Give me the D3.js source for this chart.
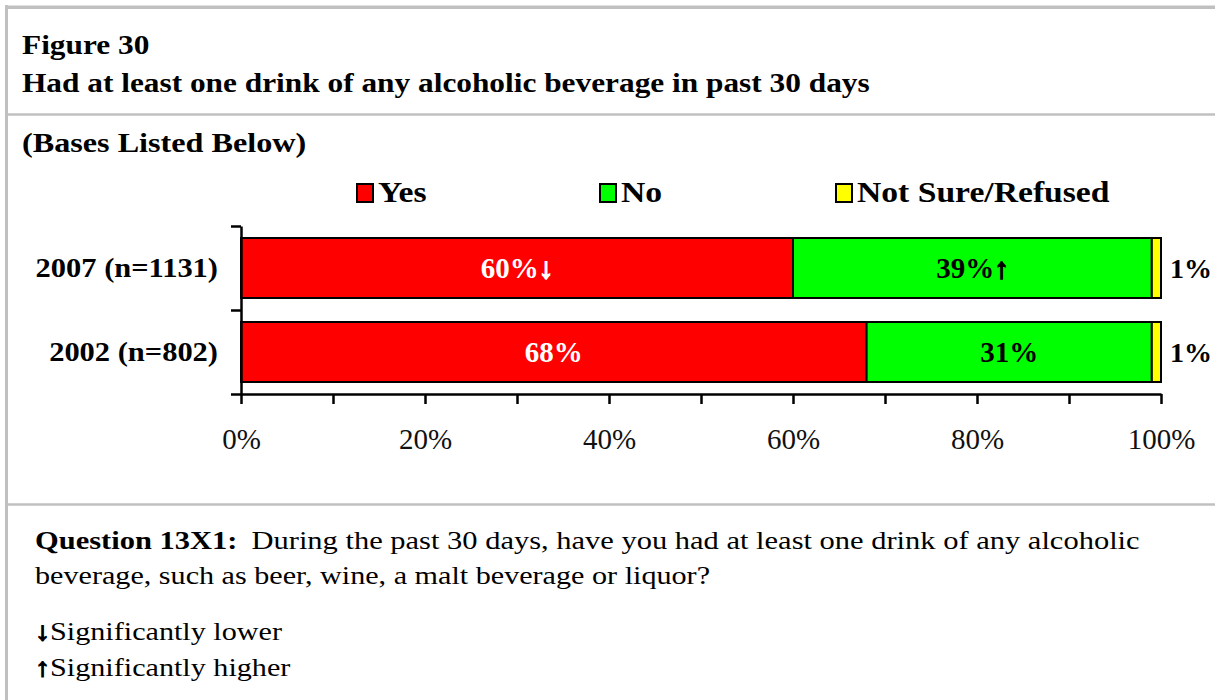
<!DOCTYPE html>
<html>
<head>
<meta charset="utf-8">
<script src="https://cdn.jsdelivr.net/npm/d3@7"></script>
<style>
  html, body { margin: 0; padding: 0; background: #fff; }
  svg { display: block; }
  text { font-family: "Liberation Serif", "Times New Roman", serif; }
</style>
</head>
<body>
<svg id="chart" width="1215" height="700"></svg>
<script>
// ---------------- data ----------------
const categories = ["2007 (n=1131)", "2002 (n=802)"];
const seriesNames = ["Yes", "No", "Not Sure/Refused"];
const yesValues = [60, 68];
const noValues = [39, 31];
const notSureValues = [1, 1];
const yesFlags = ["↓", ""];
const noFlags = ["↑", ""];
const xTickValues = [0, 10, 20, 30, 40, 50, 60, 70, 80, 90, 100];
const xTickLabels = ["0%", "", "20%", "", "40%", "", "60%", "", "80%", "", "100%"];

const titleLines = ["Figure 30", "Had at least one drink of any alcoholic beverage in past 30 days"];
const basesText = "(Bases Listed Below)";
const questionLabel = "Question 13X1:";
const questionLines = ["During the past 30 days, have you had at least one drink of any alcoholic",
                       "beverage, such as beer, wine, a malt beverage or liquor?"];
const noteLines = [["↓", "Significantly lower"], ["↑", "Significantly higher"]];

// ---------------- styles ----------------
const seriesColors = ["#ff0000", "#00ff00", "#ffff00"];
const frameColor = "#c0c0c0";
const SERIF = '"Liberation Serif", "Times New Roman", serif';

const svg = d3.select("#chart");

function addText(parent, x, y, s, o) {
  o = o || {};
  return parent.append("text")
    .attr("transform", `translate(${x},${y}) scale(${o.sx || 1},1)`)
    .attr("text-anchor", o.anchor || "start")
    .attr("font-size", o.size || 24)
    .attr("font-weight", o.weight || "normal")
    .attr("fill", o.fill || "#000")
    .text(s);
}

// ---------------- frame ----------------
svg.append("line").attr("x1", 6.5).attr("x2", 6.5).attr("y1", 5).attr("y2", 700)
  .attr("stroke", frameColor).attr("stroke-width", 3);
svg.append("line").attr("x1", 5).attr("x2", 1215).attr("y1", 7.3).attr("y2", 7.3)
  .attr("stroke", frameColor).attr("stroke-width", 3.5);
svg.append("line").attr("x1", 8).attr("x2", 1215).attr("y1", 114.5).attr("y2", 114.5)
  .attr("stroke", frameColor).attr("stroke-width", 2.5);
svg.append("line").attr("x1", 8).attr("x2", 1215).attr("y1", 504.5).attr("y2", 504.5)
  .attr("stroke", frameColor).attr("stroke-width", 2.5);

// ---------------- titles ----------------
addText(svg, 22, 54, titleLines[0], {size: 27.5, weight: "bold", sx: 1.14});
addText(svg, 22, 92, titleLines[1], {size: 27.5, weight: "bold", sx: 1.14});
addText(svg, 22, 152, basesText, {size: 28, weight: "bold", sx: 1.15});

// ---------------- scales ----------------
const x = d3.scaleLinear().domain([0, 100]).range([241, 1161]);
const y = d3.scaleBand().domain(categories).range([226, 394])
  .paddingInner(24 / 84).paddingOuter(12 / 84);
const yEdge = d3.scaleLinear().domain([0, categories.length]).range([226, 394]);

// ---------------- legend ----------------
const legendX = [357, 600, 836];
const legend = svg.append("g");
seriesNames.forEach((name, i) => {
  legend.append("rect").attr("x", legendX[i]).attr("y", 184).attr("width", 16).attr("height", 18)
    .attr("fill", seriesColors[i]).attr("stroke", "#000").attr("stroke-width", 2);
  addText(legend, legendX[i] + 21, 202, name, {size: 29, weight: "bold", sx: 1.16});
});

// ---------------- stacked bars ----------------
const rows = categories.map((c, i) => ({
  cat: c,
  segs: [yesValues[i], noValues[i], notSureValues[i]],
  flags: [yesFlags[i], noFlags[i], ""]
}));

const barG = svg.append("g");
rows.forEach(r => {
  let acc = 0;
  r.segs.forEach((v, k) => {
    barG.append("rect")
      .attr("x", x(acc)).attr("y", y(r.cat))
      .attr("width", x(acc + v) - x(acc)).attr("height", y.bandwidth())
      .attr("fill", seriesColors[k]).attr("stroke", "#000").attr("stroke-width", 2);
    const cy = y(r.cat) + y.bandwidth() / 2 + 10;
    if (k < 2) {
      const col = k === 0 ? "#fff" : "#000";
      const t = addText(barG, (x(acc) + x(acc + v)) / 2, cy, "",
        {size: 29, weight: "bold", anchor: "middle", fill: col});
      t.append("tspan").text(v + "%");
      if (r.flags[k]) {
        t.append("tspan").attr("stroke", col).attr("stroke-width", 1.6).text(r.flags[k]);
      }
    } else {
      addText(barG, x(acc + v) + 9, cy, v + "%", {size: 28, weight: "bold"});
    }
    acc += v;
  });
});

// ---------------- axes ----------------
const yAxis = svg.append("g").attr("transform", "translate(241,0)")
  .call(d3.axisLeft(yEdge).tickValues(d3.range(categories.length + 1)).tickFormat("").tickSize(10).tickSizeOuter(0));
yAxis.selectAll("path, line").attr("stroke", "#000").attr("stroke-width", 2.5);

const xAxis = svg.append("g").attr("transform", "translate(0,394)")
  .call(d3.axisBottom(x).tickValues(xTickValues)
    .tickFormat((d, i) => xTickLabels[i]).tickSize(10).tickSizeOuter(0).tickPadding(24));
xAxis.attr("font-family", null);
xAxis.selectAll("path, line").attr("stroke", "#000").attr("stroke-width", 2.5);
xAxis.selectAll("text").attr("font-size", 29).attr("fill", "#111")
  .style("font-family", SERIF).style("font-weight", "normal");

// category labels
categories.forEach(c => {
  addText(svg, 218, y(c) + y.bandwidth() / 2 + 9, c, {size: 26.5, weight: "bold", anchor: "end", sx: 1.15});
});

// ---------------- question / notes ----------------
const QS = 26, QX = 1.173;
const q = svg.append("text")
  .attr("transform", `translate(35,549) scale(${QX},1)`)
  .attr("font-size", QS);
q.append("tspan").attr("font-weight", "bold").text(questionLabel);
q.append("tspan").attr("dx", 12).text(questionLines[0]);
addText(svg, 35, 584, questionLines[1], {size: QS, sx: 1.16});

const noteY = [640, 676];
noteLines.forEach((n, i) => {
  const t = svg.append("text").attr("transform", `translate(35,${noteY[i]}) scale(1.16,1)`)
    .attr("font-size", QS);
  t.append("tspan").attr("font-weight", "bold").attr("stroke", "#000").attr("stroke-width", 1.2).text(n[0]);
  t.append("tspan").text(n[1]);
});
</script>
</body>
</html>
